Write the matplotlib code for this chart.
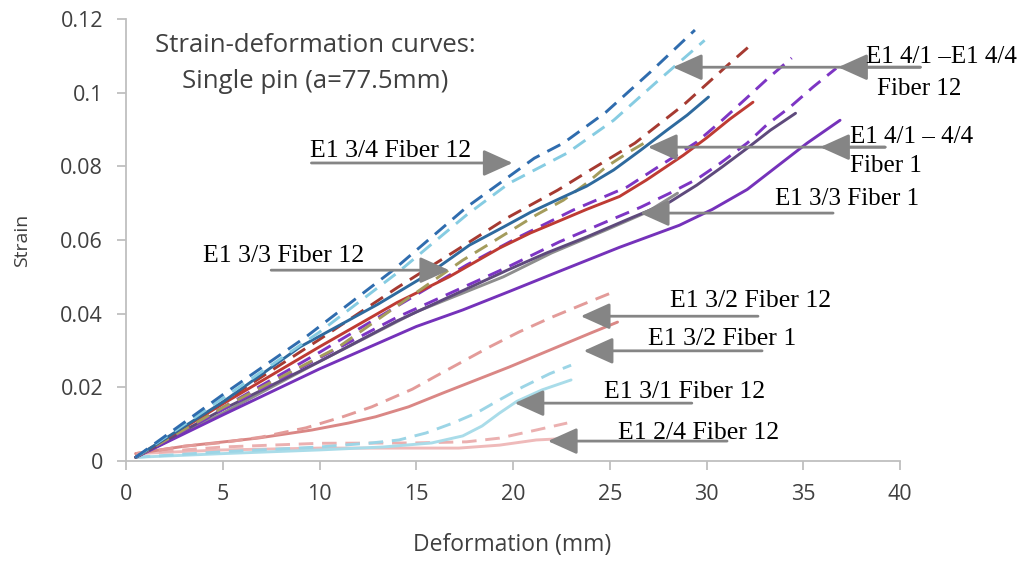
import matplotlib
matplotlib.use('Agg')
import matplotlib.pyplot as plt

# --- data (deformation in mm, strain) ---
blue_dash_x = [0.5, 5, 9.3, 13.8, 17.6, 21.1, 22.6, 24.8, 27.1, 29.4]
blue_dash_y = [0.001, 0.018, 0.0337, 0.0518, 0.0689, 0.0822, 0.0863, 0.0947, 0.1056, 0.117]

ltblue_dash_x = [0.5, 5, 10, 14, 17.6, 19.8, 22.8, 25.2, 27.4, 29.9]
ltblue_dash_y = [0.001, 0.017, 0.035, 0.051, 0.0668, 0.0754, 0.0836, 0.0925, 0.1028, 0.1142]

dkred_dash_x = [0.5, 5, 10, 14, 17.1, 19.7, 22.3, 24, 26.3, 28.8, 31.1, 32.3]
dkred_dash_y = [0.001, 0.016, 0.033, 0.047, 0.0573, 0.066, 0.0735, 0.079, 0.0863, 0.0966, 0.1075, 0.113]

olive_dash_x = [0.5, 5, 11, 14.8, 17.4, 18.8, 21.2, 22.6, 23.8, 24.8, 26, 27]
olive_dash_y = [0.001, 0.0145, 0.031, 0.045, 0.0545, 0.059, 0.0668, 0.0708, 0.0754, 0.0798, 0.0839, 0.087]

blue_solid_x = [0.5, 5, 9, 13, 15.7, 17.75, 19.5, 20.9, 22.4, 23.8, 25.2, 26.6, 27.95, 29, 30.1]
blue_solid_y = [0.001, 0.016, 0.031, 0.0425, 0.051, 0.0586, 0.0635, 0.0675, 0.0712, 0.0746, 0.079, 0.0844, 0.0898, 0.0939, 0.0988]

red_solid_x = [0.5, 5, 10, 14, 16.7, 19.3, 20.9, 22.4, 23.8, 25.5, 26.9, 28.8, 30, 31.2, 32.4]
red_solid_y = [0.001, 0.0155, 0.031, 0.043, 0.050, 0.0578, 0.0619, 0.0652, 0.0683, 0.0718, 0.0763, 0.083, 0.0877, 0.0928, 0.0974]

purple_dash1_x = [0.5, 5, 10, 14, 17.6, 20.3, 23.1, 25.9, 27.4, 29.5, 30.7, 32, 33.2, 34.4]
purple_dash1_y = [0.001, 0.0145, 0.0295, 0.042, 0.0532, 0.0608, 0.0681, 0.0744, 0.0795, 0.0866, 0.092, 0.0982, 0.104, 0.1094]

purple_dash2_x = [0.5, 5, 10, 14, 19.7, 22.4, 24.8, 26.6, 28.1, 29.5, 30.7, 32.1, 33.1, 34.3, 35.5, 36.7]
purple_dash2_y = [0.001, 0.014, 0.028, 0.039, 0.0526, 0.0595, 0.0649, 0.0689, 0.0727, 0.0765, 0.0808, 0.0863, 0.0912, 0.096, 0.1015, 0.1066]

slate_solid_x = [0.5, 5, 10, 14, 19.7, 21.7, 23.8, 26.2, 28.1, 29.5, 30.8, 32.1, 33.3, 34.6]
slate_solid_y = [0.001, 0.014, 0.027, 0.038, 0.0518, 0.0564, 0.0608, 0.0662, 0.0703, 0.0749, 0.0798, 0.0849, 0.0898, 0.0944]

gray_solid_x = [0.5, 5, 10, 15, 19.5, 22, 24.8, 26.9, 28.5]
gray_solid_y = [0.001, 0.013, 0.027, 0.0405, 0.050, 0.0565, 0.0627, 0.0675, 0.0727]

purple_solid_x = [0.5, 5, 10, 15, 17.4, 19.8, 22.4, 25.5, 28.6, 30.3, 32.1, 33.6, 35.2, 36.9]
purple_solid_y = [0.001, 0.0125, 0.025, 0.0365, 0.041, 0.046, 0.0515, 0.058, 0.064, 0.0683, 0.0737, 0.0798, 0.0863, 0.0925]

pink_dash_x = [0.5, 3, 5, 7, 9.3, 11.2, 12.7, 14.8, 16, 17.4, 18.8, 20.3, 21.9, 23.6, 25.2]
pink_dash_y = [0.002, 0.004, 0.005, 0.0065, 0.009, 0.012, 0.0147, 0.0195, 0.023, 0.027, 0.031, 0.035, 0.0388, 0.0425, 0.0459]

pink_solid_x = [0.5, 3, 6.8, 9.6, 11.5, 12.9, 14.6, 16.4, 18.1, 19.8, 21.9, 24, 25.4]
pink_solid_y = [0.002, 0.004, 0.0062, 0.0084, 0.0103, 0.012, 0.0147, 0.0185, 0.022, 0.0255, 0.0301, 0.0347, 0.0377]

cyan_dash_x = [0.5, 5, 10, 12.7, 14.1, 15.5, 16.9, 18.1, 19.3, 20.5, 21.9, 23]
cyan_dash_y = [0.001, 0.0025, 0.0038, 0.0049, 0.0057, 0.0076, 0.0103, 0.013, 0.0166, 0.0201, 0.0237, 0.026]

cyan_solid_x = [0.5, 5, 10, 13.3, 15.8, 17.4, 18.4, 19.3, 20.2, 21.5, 23]
cyan_solid_y = [0.001, 0.002, 0.003, 0.0038, 0.0049, 0.0068, 0.0095, 0.013, 0.0162, 0.0193, 0.022]

ltpink_dash_x = [0.5, 5, 10, 15, 17.6, 19.3, 21.2, 22.8]
ltpink_dash_y = [0.002, 0.0038, 0.0048, 0.0049, 0.0052, 0.0062, 0.0084, 0.0103]

ltpink_solid_x = [0.5, 5, 10, 15, 17.2, 19.3, 21.2, 23.1]
ltpink_solid_y = [0.002, 0.003, 0.0035, 0.0035, 0.0035, 0.0043, 0.0057, 0.0062]

x_ticks = [0, 5, 10, 15, 20, 25, 30, 35, 40]
y_ticks = [0, 0.02, 0.04, 0.06, 0.08, 0.1, 0.12]
y_tick_labels = ['0', '0.02', '0.04', '0.06', '0.08', '0.1', '0.12']

# (x, y, style, colour) - drawn in this order
curves = [
    (ltpink_solid_x, ltpink_solid_y, '-', '#EFBABA'),
    (ltpink_dash_x, ltpink_dash_y, '--', '#EBB0B0'),
    (cyan_solid_x, cyan_solid_y, '-', '#A9DCE9'),
    (cyan_dash_x, cyan_dash_y, '--', '#9CD5E6'),
    (pink_solid_x, pink_solid_y, '-', '#DA8785'),
    (pink_dash_x, pink_dash_y, '--', '#E39B99'),
    (gray_solid_x, gray_solid_y, '-', '#8E8E8E'),
    (purple_solid_x, purple_solid_y, '-', '#7532BA'),
    (slate_solid_x, slate_solid_y, '-', '#5E4A7C'),
    (purple_dash2_x, purple_dash2_y, '--', '#7D35C4'),
    (purple_dash1_x, purple_dash1_y, '--', '#7D35C4'),
    (red_solid_x, red_solid_y, '-', '#BE3B33'),
    (olive_dash_x, olive_dash_y, '--', '#A49C5C'),
    (dkred_dash_x, dkred_dash_y, '--', '#A63A31'),
    (blue_solid_x, blue_solid_y, '-', '#2E6A9E'),
    (ltblue_dash_x, ltblue_dash_y, '--', '#86CCE2'),
    (blue_dash_x, blue_dash_y, '--', '#2F6CAE'),
]

fig = plt.figure(figsize=(10.23, 5.61), dpi=100)
ax = fig.add_axes([0.1232, 0.1783, 0.7566, 0.7879])

for xs, ys, ls, col in curves:
    if ls == '--':
        ax.plot(xs, ys, color=col, lw=2.1, linestyle=(0, (5.0, 3.0)), solid_capstyle='round')
    else:
        ax.plot(xs, ys, color=col, lw=2.1, solid_capstyle='round')

ax.set_xlim(0, 40)
ax.set_ylim(0, 0.12)
ax.set_xticks(x_ticks)
ax.set_yticks(y_ticks)
ax.set_yticklabels(y_tick_labels)

for s in ['top', 'right']:
    ax.spines[s].set_visible(False)
for s in ['left', 'bottom']:
    ax.spines[s].set_color('#BFBFBF')
    ax.spines[s].set_linewidth(1.3)

ax.tick_params(axis='both', direction='out', length=6.5, width=1.3, color='#BFBFBF',
               labelcolor='#404040', labelsize=15.5, pad=10)
for lab in ax.get_xticklabels() + ax.get_yticklabels():
    lab.set_family('Open Sans')

ax.set_xlabel('Deformation (mm)', fontsize=16.5, family='Open Sans', color='#404040', va='center')
ax.xaxis.set_label_coords(0.4987, -0.19)
ax.set_ylabel('Strain', fontsize=14, family='Open Sans', color='#404040', va='center')
ax.yaxis.set_label_coords(-0.134, 0.5)

fig.text(0.308, 1 - 52 / 561, 'Strain-deformation curves:', ha='center', va='baseline',
         fontsize=18.5, family='Open Sans', color='#404040')
fig.text(0.308, 1 - 88 / 561, 'Single pin (a=77.5mm)', ha='center', va='baseline',
         fontsize=18.5, family='Open Sans', color='#404040')

# annotations: arrows (tail -> head) and labels
arrow_col = '#858585'
astyle = '-|>,head_length=1.0,head_width=0.45'


def arrow(x0, y0, x1, y1):
    ax.annotate('', xy=(x1, y1), xytext=(x0, y0), annotation_clip=False,
                arrowprops=dict(arrowstyle=astyle, mutation_scale=18, color=arrow_col,
                                lw=2.0, shrinkA=0, shrinkB=0))


def label(x, y, s, size=18.5):
    ax.text(x, y, s, ha='left', va='baseline', fontsize=size,
            family='Liberation Serif', color='black', clip_on=False)


arrow(9.58, 0.0809, 19.98, 0.0809)
label(9.5, 0.0825, 'E1 3/4 Fiber 12')

arrow(7.5, 0.0518, 16.7, 0.0518)
label(4.0, 0.054, 'E1 3/3 Fiber 12')

arrow(41.05, 0.1069, 28.26, 0.1069)
arrow(41.05, 0.1069, 36.8, 0.1069)
label(38.25, 0.108, 'E1 4/1 \u2013E1 4/4', 18)
label(38.8, 0.0993, 'Fiber 12', 18)

arrow(39.23, 0.0852, 26.97, 0.0852)
arrow(39.23, 0.0852, 35.87, 0.0852)
label(37.4, 0.0863, 'E1 4/1 \u2013 4/4', 18)
label(37.4, 0.0784, 'Fiber 1', 18)

arrow(36.54, 0.0673, 26.55, 0.0673)
label(33.54, 0.0695, 'E1 3/3 Fiber 1', 18)

arrow(32.66, 0.0393, 23.5, 0.0393)
label(28.1, 0.0418, 'E1 3/2 Fiber 12')

arrow(32.87, 0.0299, 23.65, 0.0299)
label(27.0, 0.0315, 'E1 3/2 Fiber 1')

arrow(29.24, 0.0157, 20.08, 0.0157)
label(24.7, 0.0172, 'E1 3/1 Fiber 12')

arrow(31.06, 0.0054, 21.8, 0.0054)
label(25.4, 0.006, 'E1 2/4 Fiber 12')

fig.savefig('out.png', dpi=100)
